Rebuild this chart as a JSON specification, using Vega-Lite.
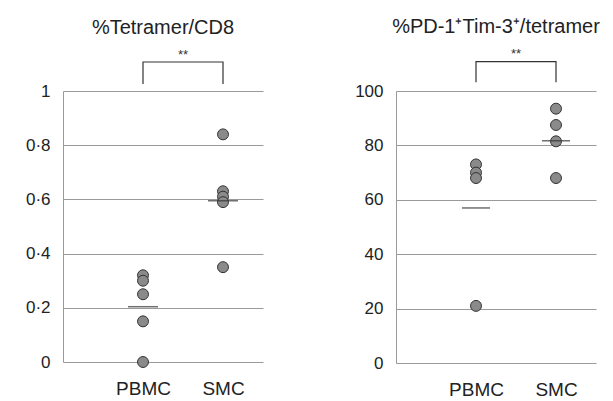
{
  "$schema": "https://vega.github.io/schema/vega-lite/v6.json",
  "background": "white",
  "padding": {"left": 25, "top": 16, "right": 5, "bottom": 3},
  "config": {
    "font": "Liberation Sans",
    "view": {"stroke": null},
    "concat": {"spacing": 91},
    "title": {"fontSize": 20, "fontWeight": "normal", "color": "#222", "offset": 11, "frame": "group"},
    "axisY": {"domainColor": "#9a9a9a", "gridColor": "#9a9a9a", "gridOpacity": 1, "ticks": false, "labelFontSize": 17, "labelColor": "#222", "labelPadding": 13, "title": null},
    "axisX": {"domain": false, "grid": false, "ticks": false, "labelFontSize": 19, "labelColor": "#222", "labelPadding": 17, "labelAngle": 0, "title": null}
  },
  "datasets": {
    "tetPts": [
      {"group": "PBMC", "value": 0.32}, {"group": "PBMC", "value": 0.30}, {"group": "PBMC", "value": 0.25}, {"group": "PBMC", "value": 0.15}, {"group": "PBMC", "value": 0.0},
      {"group": "SMC", "value": 0.84}, {"group": "SMC", "value": 0.63}, {"group": "SMC", "value": 0.61}, {"group": "SMC", "value": 0.59}, {"group": "SMC", "value": 0.35}
    ],
    "tetMed": [{"group": "PBMC", "value": 0.204}, {"group": "SMC", "value": 0.595}],
    "tetBr": [
      {"group": "PBMC", "value": 1.026, "o": 1}, {"group": "PBMC", "value": 1.107, "o": 2},
      {"group": "SMC", "value": 1.107, "o": 3}, {"group": "SMC", "value": 1.026, "o": 4}
    ],
    "tetSig": [{"group": "PBMC", "value": 1.117, "label": "**"}],
    "pdPts": [
      {"group": "PBMC", "value": 73}, {"group": "PBMC", "value": 70}, {"group": "PBMC", "value": 68}, {"group": "PBMC", "value": 21},
      {"group": "SMC", "value": 93.5}, {"group": "SMC", "value": 87.5}, {"group": "SMC", "value": 81.5}, {"group": "SMC", "value": 68}
    ],
    "pdMed": [{"group": "PBMC", "value": 57}, {"group": "SMC", "value": 81.7}],
    "pdBr": [
      {"group": "PBMC", "value": 103.2, "o": 1}, {"group": "PBMC", "value": 110.8, "o": 2},
      {"group": "SMC", "value": 110.8, "o": 3}, {"group": "SMC", "value": 103.2, "o": 4}
    ],
    "pdSig": [{"group": "PBMC", "value": 112.2, "label": "**"}]
  },
  "hconcat": [
    {
      "width": 200, "height": 271,
      "title": {"text": "%Tetramer/CD8"},
      "layer": [
        {
          "data": {"name": "tetPts"},
          "mark": {"type": "circle", "size": 120, "color": "#8a8a8a", "stroke": "#333", "strokeWidth": 1, "opacity": 1},
          "encoding": {
            "x": {"field": "group", "type": "nominal", "scale": {"type": "point", "domain": ["PBMC", "SMC"], "padding": 0.75, "align": 0.6667}},
            "y": {"field": "value", "type": "quantitative", "scale": {"domain": [0, 1], "nice": false},
                  "axis": {"values": [0, 0.2, 0.4, 0.6, 0.8, 1], "labelExpr": "datum.value == 0 ? '0' : datum.value == 1 ? '1' : replace(format(datum.value, '.1f'), '.', '·')"}}
          }
        },
        {
          "data": {"name": "tetMed"},
          "mark": {"type": "tick", "orient": "horizontal", "size": 30, "thickness": 1.5, "color": "#333"},
          "encoding": {"x": {"field": "group", "type": "nominal"}, "y": {"field": "value", "type": "quantitative"}}
        },
        {
          "data": {"name": "tetBr"},
          "mark": {"type": "line", "color": "#333", "strokeWidth": 1.2, "clip": false},
          "encoding": {"x": {"field": "group", "type": "nominal"}, "y": {"field": "value", "type": "quantitative"}, "order": {"field": "o"}}
        },
        {
          "data": {"name": "tetSig"},
          "mark": {"type": "text", "dx": 40, "fontSize": 13, "color": "#333", "baseline": "alphabetic"},
          "encoding": {"x": {"field": "group", "type": "nominal"}, "y": {"field": "value", "type": "quantitative"}, "text": {"field": "label"}}
        }
      ]
    },
    {
      "width": 200, "height": 272,
      "title": {"text": "%PD-1⁺Tim-3⁺/tetramer"},
      "layer": [
        {
          "data": {"name": "pdPts"},
          "mark": {"type": "circle", "size": 120, "color": "#8a8a8a", "stroke": "#333", "strokeWidth": 1, "opacity": 1},
          "encoding": {
            "x": {"field": "group", "type": "nominal", "scale": {"type": "point", "domain": ["PBMC", "SMC"], "padding": 0.75, "align": 0.6667}},
            "y": {"field": "value", "type": "quantitative", "scale": {"domain": [0, 100], "nice": false},
                  "axis": {"values": [0, 20, 40, 60, 80, 100]}}
          }
        },
        {
          "data": {"name": "pdMed"},
          "mark": {"type": "tick", "orient": "horizontal", "size": 28, "thickness": 1.5, "color": "#333"},
          "encoding": {"x": {"field": "group", "type": "nominal"}, "y": {"field": "value", "type": "quantitative"}}
        },
        {
          "data": {"name": "pdBr"},
          "mark": {"type": "line", "color": "#333", "strokeWidth": 1.2, "clip": false},
          "encoding": {"x": {"field": "group", "type": "nominal"}, "y": {"field": "value", "type": "quantitative"}, "order": {"field": "o"}}
        },
        {
          "data": {"name": "pdSig"},
          "mark": {"type": "text", "dx": 40, "fontSize": 13, "color": "#333", "baseline": "alphabetic"},
          "encoding": {"x": {"field": "group", "type": "nominal"}, "y": {"field": "value", "type": "quantitative"}, "text": {"field": "label"}}
        }
      ]
    }
  ]
}
